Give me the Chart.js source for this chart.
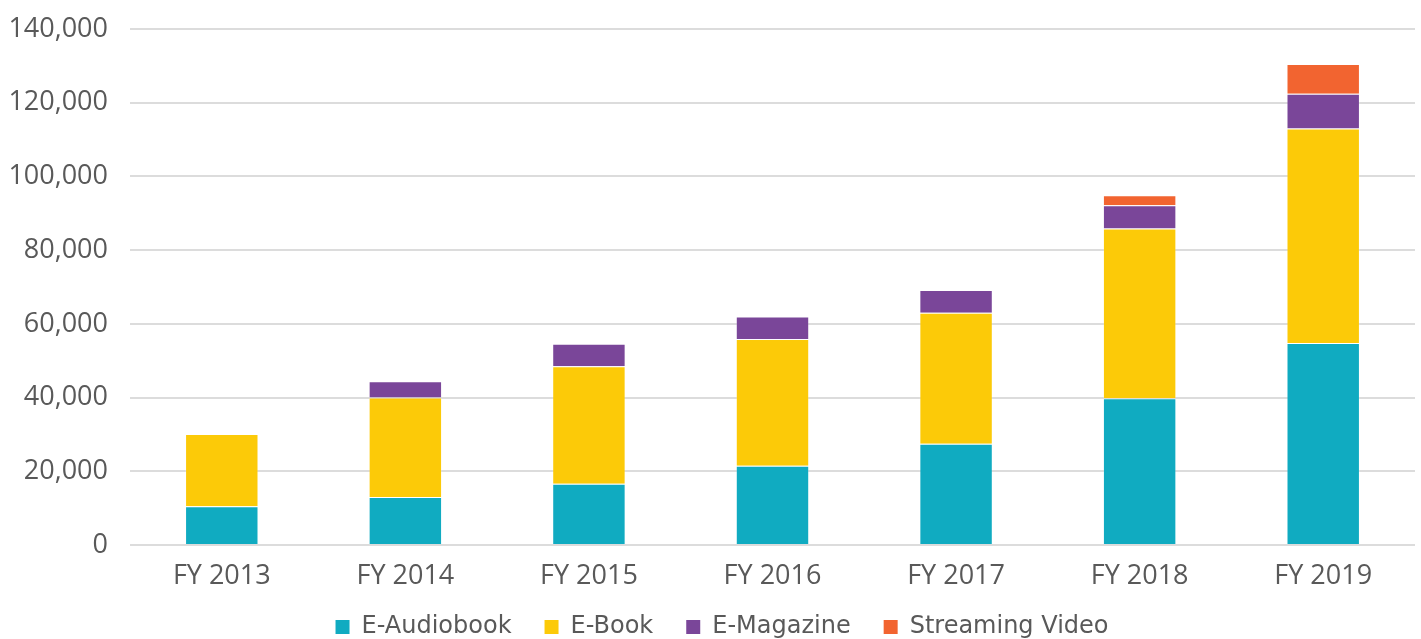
<!DOCTYPE html>
<html>
<head>
<meta charset="utf-8">
<script src="https://cdn.jsdelivr.net/npm/chart.js@4.4.1/dist/chart.umd.min.js"></script>
<style>
  html, body { margin: 0; padding: 0; background: #ffffff; }
  #wrap { width: 1421px; height: 639px; position: relative; }
</style>
</head>
<body>
<div id="wrap"><canvas id="c"></canvas></div>
<script>
const categories = ["FY 2013", "FY 2014", "FY 2015", "FY 2016", "FY 2017", "FY 2018", "FY 2019"];
const eAudiobook = [10500, 13000, 16600, 21500, 27500, 39800, 54800];
const eBook = [19600, 27000, 31900, 34400, 35500, 46100, 58200];
const eMagazine = [null, 4400, 6100, 6100, 6200, 6300, 9400];
const streamingVideo = [null, null, null, null, null, 2700, 8100];
const yTicks = [0, 20000, 40000, 60000, 80000, 100000, 120000, 140000];

const FONT = "'Open Sans', sans-serif";
const LEGEND_FONT = "'DejaVu Sans', sans-serif";
const TXT = '#595959';
const EDGE = 'rgba(255,255,255,0.18)';

// Adjusts box placement after layout: lets x labels extend below their box, nudges legend.
const layoutTweak = {
  id: 'layoutTweak',
  afterLayout(chart) {
    const x = chart.scales.x;
    x.bottom = chart.height;
    const lg = chart.legend;
    if (lg) {
      lg.left += 10; lg.right += 10;
    }
  }
};

function build() {
  new Chart(document.getElementById('c'), {
    type: 'bar',
    data: {
      labels: categories,
      datasets: [
        { label: 'E-Audiobook', data: eAudiobook, backgroundColor: '#10ABC1' },
        { label: 'E-Book', data: eBook, backgroundColor: '#FCCA08' },
        { label: 'E-Magazine', data: eMagazine, backgroundColor: '#7A4699' },
        { label: 'Streaming Video', data: streamingVideo, backgroundColor: '#F26430' }
      ]
    },
    plugins: [layoutTweak],
    options: {
      responsive: true,
      maintainAspectRatio: false,
      animation: false,
      layout: { padding: { left: 9, right: 6, top: 29, bottom: -10 } },
      datasets: { bar: { categoryPercentage: 1.0, barPercentage: 0.4, borderWidth: 1, borderColor: EDGE } },
      plugins: {
        legend: {
          position: 'bottom',
          labels: {
            font: { family: LEGEND_FONT, size: 24 },
            color: TXT,
            boxWidth: 14,
            boxHeight: 14,
            padding: 33,
            generateLabels: (chart) => Chart.defaults.plugins.legend.labels.generateLabels(chart).map(l => Object.assign(l, { lineWidth: 0 }))
          }
        },
        tooltip: { enabled: false }
      },
      scales: {
        x: {
          stacked: true,
          grid: { display: false, drawTicks: false },
          border: { display: false },
          ticks: { font: { family: FONT, size: 27 }, color: TXT, padding: 15 },
          afterFit: (scale) => { scale.height = 37; scale.paddingLeft = 0; scale.paddingRight = 0; }
        },
        y: {
          stacked: true,
          min: 0,
          max: 140000,
          afterBuildTicks: (axis) => { axis.ticks = yTicks.map(v => ({ value: v })); },
          grid: { color: '#dcdcdc', lineWidth: 2, drawTicks: false },
          border: { display: false },
          ticks: {
            font: { family: FONT, size: 27 },
            color: TXT,
            padding: 22,
            callback: (v) => v.toLocaleString('en-US')
          },
          afterFit: (scale) => { scale.width = 121; scale.paddingTop = 0; scale.paddingBottom = 0; }
        }
      }
    }
  });
}

Promise.all([
  document.fonts.load("27px 'Open Sans'"),
  document.fonts.load("24px 'DejaVu Sans'")
]).then(build, build);
</script>
</body>
</html>
